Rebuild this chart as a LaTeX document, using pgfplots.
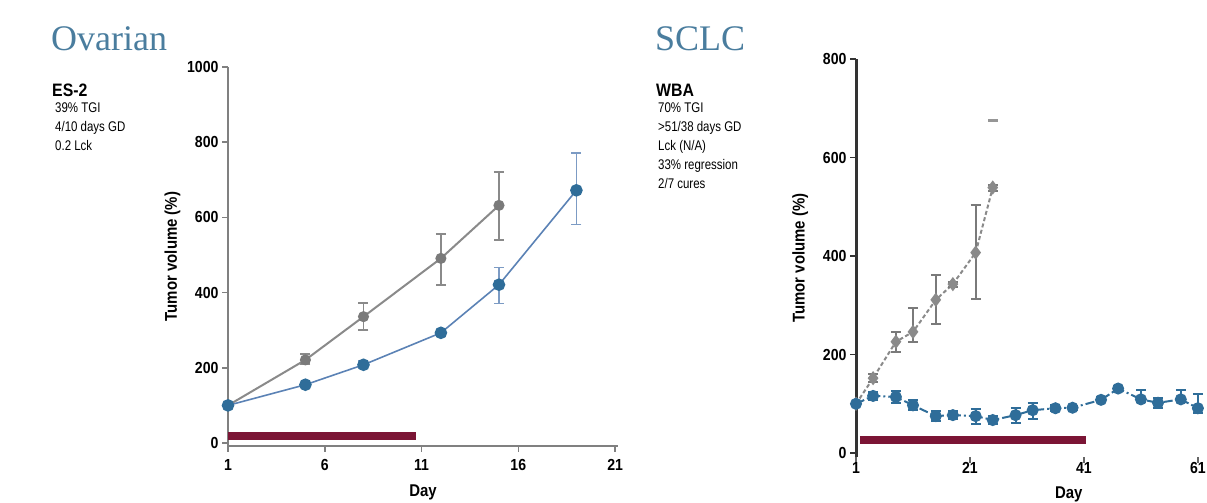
\documentclass[border=0pt]{standalone}
\usepackage{fontspec}
\setmainfont{Liberation Sans}
\newfontfamily\cond{Liberation Sans}[FakeStretch=0.82]
\newfontfamily\condB{Liberation Sans}[FakeStretch=0.88]
\newfontfamily\titlefont{Liberation Serif}
\usepackage{pgfplots}
\pgfplotsset{compat=1.18}

\definecolor{ttl}{HTML}{4A7D9E}
\definecolor{ctrl}{HTML}{8A8A8A}
\definecolor{ctrlmk}{HTML}{7A7A7A}
\definecolor{trt}{HTML}{5B82B5}
\definecolor{trtmk}{HTML}{2F6D99}
\definecolor{dosing}{HTML}{7B1535}
\definecolor{axgray}{HTML}{808080}

\pgfplotsset{
  tumor/.style={
    scale only axis,
    axis x line*=bottom, axis y line*=left,
    tick align=outside,
    major tick length=6pt,
    /pgf/number format/assume math mode=true,
    /pgf/number format/set thousands separator={},
    ticklabel style={font=\condB\bfseries\fontsize{16}{16}\selectfont},
    label style={font=\condB\bfseries\fontsize{17}{17}\selectfont},
    ylabel={Tumor volume (\%)},
    xlabel={Day},
    clip=false,
  },
}

\begin{document}
\begin{tikzpicture}
\path[use as bounding box] (0,0) rectangle (1207pt,503pt);

% titles and notes
\node[anchor=base west, text=ttl, inner sep=0pt] at (51pt,452pt) {\titlefont\fontsize{36}{36}\selectfont Ovarian};
\node[anchor=base west, text=ttl, inner sep=0pt] at (655pt,452pt) {\titlefont\fontsize{36}{36}\selectfont SCLC};

\node[anchor=base west, inner sep=0pt] at (52pt,406pt) {\condB\bfseries\fontsize{18}{18}\selectfont ES-2};
\node[anchor=north west, inner sep=0pt, align=left, font=\cond\fontsize{14}{19}\selectfont] at (55pt,400pt)
  {39\% TGI\\4/10 days GD\\0.2 Lck};

\node[anchor=base west, inner sep=0pt] at (656pt,406pt) {\condB\bfseries\fontsize{18}{18}\selectfont WBA};
\node[anchor=north west, inner sep=0pt, align=left, font=\cond\fontsize{14}{19}\selectfont] at (658pt,400pt)
  {70\% TGI\\>51/38 days GD\\Lck (N/A)\\33\% regression\\2/7 cures};

% Ovarian ES-2
\begin{axis}[tumor,
  at={(228pt,57pt)}, anchor=south west,
  width=390pt, height=379pt,
  xmin=1, xmax=21.15, ymin=-8, ymax=1000,
  xtick={1,6,11,16,21}, ytick={0,200,400,600,800,1000},
  axis line style={draw=axgray, line width=2.5pt},
  tick style={draw=axgray, line width=1.5pt},
  x tick label style={yshift=-4pt},
  xlabel style={yshift=-7pt},
  ylabel style={yshift=0pt},
]
\addplot[dosing, line width=8pt] coordinates {(1,19) (10.7,19)};
\addplot[ctrl, line width=2pt, mark=*, mark size=4.5pt,
  mark options={fill=ctrlmk, draw=ctrlmk},
  error bars/.cd, y dir=both, y explicit,
  error bar style={ctrl, line width=1.8pt},
  error mark options={rotate=90, mark size=5pt, ctrl, line width=1.8pt}]
coordinates {
  (1,100) +- (0,0)
  (5,221) += (0,15) -= (0,10)
  (8,336) += (0,37) -= (0,35)
  (12,491) += (0,64) -= (0,70)
  (15,632) += (0,88) -= (0,93)
};
\addplot[trt, line width=1.6pt, mark=*, mark size=5.5pt,
  mark options={fill=trtmk, draw=trtmk},
  error bars/.cd, y dir=both, y explicit,
  error bar style={trt!80, line width=1.6pt},
  error mark options={rotate=90, mark size=5pt, trt!80, line width=1.6pt}]
coordinates {
  (1,100) +- (0,0)
  (5,155) +- (0,6)
  (8,208) +- (0,10)
  (12,293) +- (0,8)
  (15,421) += (0,46) -= (0,50)
  (19,672) += (0,99) -= (0,91)
};
\end{axis}

% SCLC WBA
\begin{axis}[tumor,
  at={(856pt,46pt)}, anchor=south west,
  width=351pt, height=398pt,
  xmin=1, xmax=62.6, ymin=-8, ymax=800,
  xtick={1,21,41,61}, ytick={0,200,400,600,800},
  y axis line style={draw=black!80, line width=3pt},
  x axis line style={draw=none},
  ytick style={draw=black!80, line width=1.5pt},
  xtick style={draw=black!60, line width=2pt},
  x tick label style={yshift=4pt},
  xlabel style={at={(ticklabel cs:0.606)}, anchor=north, yshift=-6pt},
  ylabel style={yshift=8pt},
]
\addplot[dosing, line width=8pt] coordinates {(1.7,26) (41.3,26)};
\addplot[ctrl, line width=2pt, dash pattern=on 4pt off 2.5pt,
  mark=diamond*, mark size=5.5pt,
  mark options={solid, fill=ctrl, draw=ctrl},
  error bars/.cd, y dir=both, y explicit,
  error bar style={solid, ctrlmk, line width=2pt},
  error mark options={solid, rotate=90, mark size=5pt, ctrlmk, line width=2pt}]
coordinates {
  (1,100) +- (0,0)
  (4,152) +- (0,8)
  (8,226) += (0,20) -= (0,20)
  (11,246) += (0,49) -= (0,20)
  (15,311) += (0,50) -= (0,49)
  (18,343) +- (0,5)
  (22,407) += (0,96) -= (0,95)
  (25,539) +- (0,6)
};
\addplot[only marks, mark=-, mark size=5pt, mark options={ctrl!90, line width=2.5pt}]
coordinates {(25,675)};
\addplot[trtmk, line width=2pt, dash pattern=on 9pt off 3pt on 2pt off 3pt,
  mark=*, mark size=5pt,
  mark options={solid, fill=trtmk, draw=trtmk},
  error bars/.cd, y dir=both, y explicit,
  error bar style={solid, trtmk, line width=2pt},
  error mark options={solid, rotate=90, mark size=5pt, trtmk, line width=2pt}]
coordinates {
  (1,100) +- (0,0)
  (4,116) +- (0,8)
  (8,114) +- (0,12)
  (11,97) +- (0,10)
  (15,75) +- (0,10)
  (18,77) +- (0,8)
  (22,75) +- (0,15)
  (25,67) +- (0,8)
  (29,77) +- (0,15)
  (32,87) += (0,14) -= (0,18)
  (36,91) +- (0,6)
  (39,92) +- (0,4)
  (44,108) +- (0,5)
  (47,131) +- (0,5)
  (51,109) += (0,19) -= (0,5)
  (54,102) +- (0,10)
  (58,109) += (0,19) -= (0,5)
  (61,91) += (0,29) -= (0,10)
};
\end{axis}
\end{tikzpicture}
\end{document}
